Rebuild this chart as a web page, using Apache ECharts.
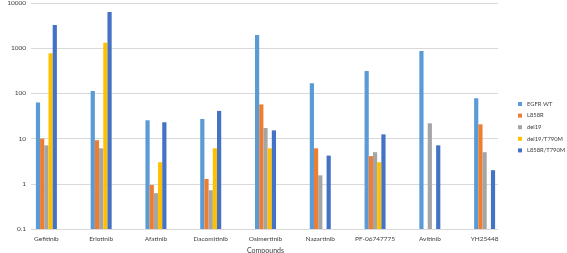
<!DOCTYPE html>
<html>
<head>
<meta charset="utf-8">
<script src="https://cdn.jsdelivr.net/npm/echarts@6/dist/echarts.min.js"></script>
<style>
  html, body { margin: 0; padding: 0; background: #fff; }
  #chart { width: 567px; height: 253px; }
</style>
</head>
<body>
<div id="chart"></div>
<script>
// compounds on the x axis
const compounds = ['Gefitinib', 'Erlotinib', 'Afatinib', 'Dacomitinib', 'Osimertinib',
  'Nazartinib', 'PF-06747775', 'Avitinib', 'YH25448']
// IC50 (nM) per EGFR variant, null = not measured
const egfrWt = [63, 113, 25.4, 27.2, 1950, 167, 314, 867, 78]
const l858r = [10, 9.2, 0.94, 1.28, 57, 6.1, 4.1, null, 20.7]
const del19 = [7.1, 6.1, 0.62, 0.72, 17.2, 1.54, 5.0, 21.8, 5.0]
const del19T790m = [771, 1320, 3.0, 6.1, 6.1, null, 3.0, null, null]
const l858rT790m = [3260, 6300, 23, 41, 15.2, 4.2, 12.4, 7.1, 2.0]
const yTicks = [0.1, 1, 10, 100, 1000, 10000]

const seriesList = [
  { name: 'EGFR WT', data: egfrWt, color: '#5b9bd5' },
  { name: 'L858R', data: l858r, color: '#ed7d31' },
  { name: 'del19', data: del19, color: '#a5a5a5' },
  { name: 'del19/T790M', data: del19T790m, color: '#ffc000' },
  { name: 'L858R/T790M', data: l858rT790m, color: '#4472c4' }
]

// log scale: values are plotted as decades above the axis floor (0.1),
// so bars start at the bottom of the plot and each tick is one decade
const logMin = Math.log10(yTicks[0])
const decades = yTicks.length - 1
const toDecades = v => (v == null ? null : Math.log10(v) - logMin)

const font = 'Lato, "Open Sans", sans-serif'
const chart = echarts.init(document.getElementById('chart'))
const option = {
  animation: false,
  textStyle: { fontFamily: font },
  legend: {
    orient: 'vertical',
    left: 518,
    top: 101,
    padding: 0,
    itemWidth: 4,
    itemHeight: 4,
    itemGap: 5.6,
    icon: 'rect',
    textStyle: { fontSize: 5.8, color: '#404040', fontFamily: font },
    data: seriesList.map(s => s.name)
  },
  grid: [
    // bars
    { left: 19, right: 55, top: 3, bottom: 24, outerBoundsMode: 'none' },
    // gridlines and y labels
    { left: 31, right: 69, top: 3, bottom: 24, outerBoundsMode: 'none' }
  ],
  xAxis: [
    {
      type: 'category',
      gridIndex: 0,
      data: compounds,
      name: 'Compounds',
      nameLocation: 'middle',
      nameGap: 16,
      nameTextStyle: { fontSize: 7, color: '#404040', fontFamily: font },
      axisLine: { show: false },
      axisTick: { show: false },
      axisLabel: { fontSize: 6.5, color: '#404040', margin: 6, interval: 0, fontFamily: font }
    },
    {
      type: 'category',
      gridIndex: 1,
      data: [],
      show: false
    }
  ],
  yAxis: [
    {
      type: 'value',
      gridIndex: 0,
      min: 0,
      max: decades,
      show: false
    },
    {
      type: 'value',
      gridIndex: 1,
      min: 0,
      max: decades,
      interval: 1,
      name: 'IC50 (nM)',
      nameLocation: 'middle',
      nameRotate: 90,
      nameGap: 23,
      nameTextStyle: { fontSize: 7, color: '#404040', fontFamily: font },
      axisLine: { show: false },
      axisTick: { show: false },
      axisLabel: {
        fontSize: 6.5,
        color: '#404040',
        margin: 5,
        fontFamily: font,
        formatter: v => String(yTicks[Math.round(v)])
      },
      splitLine: { lineStyle: { color: '#d9d9d9', width: 1 } }
    }
  ],
  series: seriesList.map(s => ({
    name: s.name,
    type: 'bar',
    xAxisIndex: 0,
    yAxisIndex: 0,
    barWidth: 4.2,
    barGap: '0%',
    itemStyle: { color: s.color },
    data: s.data.map(toDecades)
  }))
}
chart.setOption(option)
</script>
</body>
</html>
